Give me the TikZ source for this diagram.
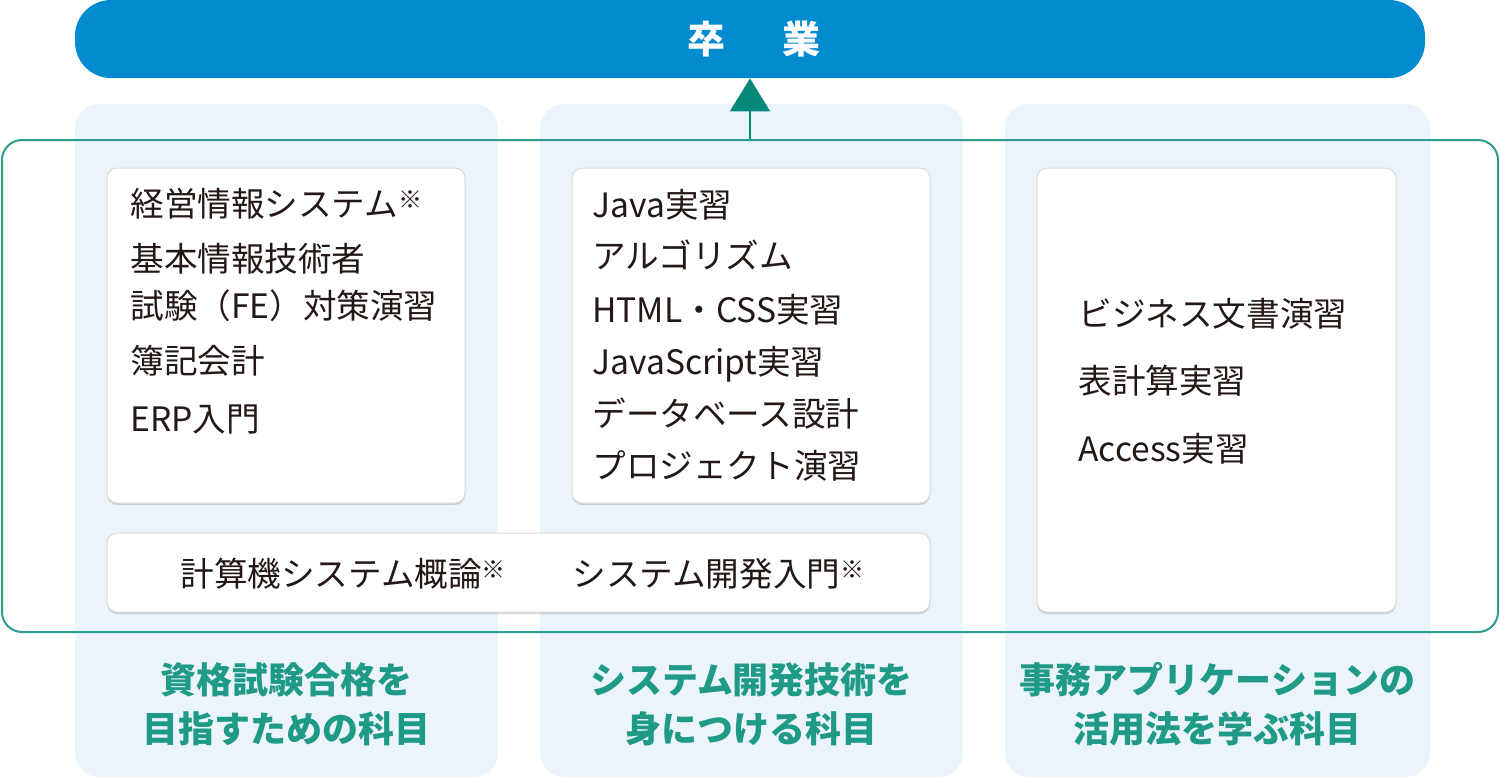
\documentclass[tikz,border=0pt]{standalone}
\usepackage{fontspec}
\setmainfont{Noto Sans CJK JP}
\usetikzlibrary{arrows.meta,shadows}
\definecolor{gradblue}{HTML}{038BCF}
\definecolor{colbg}{HTML}{ECF4FB}
\definecolor{frameteal}{HTML}{2A9D8C}
\definecolor{arrowteal}{HTML}{07897A}
\definecolor{captionteal}{HTML}{1F9A87}
\definecolor{inkdark}{HTML}{231815}
\newcommand\komemark{\raisebox{4pt}{\fontsize{12pt}{12pt}\selectfont ※}}
\tikzset{
  whitebox/.style={draw=black!15, line width=0.5pt, fill=white, rounded corners=5pt, inner sep=0pt,
    drop shadow={shadow xshift=0pt, shadow yshift=-1pt, opacity=0.3, fill=black!50}},
  item/.style={anchor=west, inner sep=0pt, text height=0.88em, text depth=0.12em, yshift=-2pt,
    font=\fontsize{16.8pt}{20pt}\selectfont, text=inkdark},
  caption/.style={inner sep=0pt, text height=0.88em, text depth=0.12em, yshift=-1.5pt,
    font=\fontsize{18pt}{21pt}\selectfont\bfseries, text=captionteal},
  colpanel/.style={fill=colbg, rounded corners=12pt},
}
\begin{document}
\begin{tikzpicture}[x=0.5pt,y=-0.5pt]
\useasboundingbox (0,0) rectangle (1500,778);
% column panels
\fill[colpanel] (75,104) rectangle (498,777);
\fill[colpanel] (540,104) rectangle (963,777);
\fill[colpanel] (1005,104) rectangle (1430,777);
% graduation bar
\node[fill=gradblue, rounded corners=18pt, minimum width=675pt, minimum height=39pt, inner sep=0pt,
  text=white, font=\fontsize{19pt}{22pt}\selectfont\bfseries] (grad) at (750,39) {\hspace{4pt}卒\hspace{29pt}業};
% frame
\node[draw=frameteal, line width=1pt, rounded corners=10pt, minimum width=748pt, minimum height=246pt, inner sep=0pt] (frame) at (750,386) {};
% arrow
\draw[arrowteal, line width=1pt, -{Triangle[length=16.5pt,width=20pt]}] (frame.north) -- (grad.south);
% white boxes
\node[whitebox, minimum width=179pt, minimum height=167.5pt] (boxA) at (286,335.5) {};
\node[whitebox, minimum width=179pt, minimum height=167.5pt] (boxB) at (751,335.5) {};
\node[whitebox, minimum width=179.5pt, minimum height=222pt] (boxC) at (1216.5,390) {};
\node[whitebox, minimum width=411.5pt, minimum height=39.5pt] (boxD) at (518.5,572.5) {};
% box A
\node[item] (a1) at (130,205) {経営情報システム\komemark};
\node[item] (a2) at (130,260) {基本情報技術者};
\node[item] (a3) at (130,307) {試験（FE）対策演習};
\node[item] (a4) at (130,362) {簿記会計};
\node[item] (a5) at (130,420) {ERP入門};
% box B
\node[item] (b1) at (592,206) {Java実習};
\node[item] (b2) at (592,257) {アルゴリズム};
\node[item] (b3) at (592,311) {HTML・CSS実習};
\node[item] (b4) at (592,363) {JavaScript実習};
\node[item] (b5) at (592,415) {データベース設計};
\node[item] (b6) at (592,467) {プロジェクト演習};
% box C
\node[item] (c1) at (1078,315) {ビジネス文書演習};
\node[item] (c2) at (1078,382) {表計算実習};
\node[item] (c3) at (1078,450) {Access実習};
% box D
\node[item] (d1) at (180,575) {計算機システム概論\komemark};
\node[item] (d2) at (572,575) {システム開発入門\komemark};
% captions
\node[caption] (p1a) at (286.5,683) {資格試験合格を};
\node[caption] (p1b) at (286.5,732) {目指すための科目};
\node[caption] (p2a) at (751.5,683) {システム開発技術を};
\node[caption] (p2b) at (751.5,732) {身につける科目};
\node[caption] (p3a) at (1217.5,683) {事務アプリケーションの};
\node[caption] (p3b) at (1217.5,732) {活用法を学ぶ科目};
\end{tikzpicture}
\end{document}
